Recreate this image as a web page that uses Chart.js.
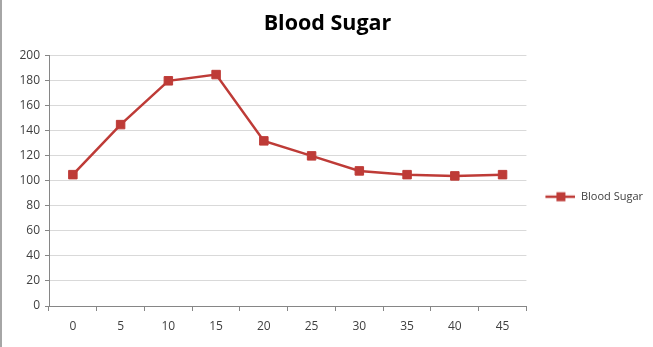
<!DOCTYPE html>
<html><head><meta charset="utf-8">
<script src="https://cdn.jsdelivr.net/npm/chart.js@4/dist/chart.umd.min.js"></script>
<style>
html,body{margin:0;padding:0;background:#fff;}
#wrap{position:absolute;left:0;top:0;width:651px;height:347px;border-left:2px solid #a6a6a6;}
</style></head>
<body>
<div id="wrap"><canvas id="c" width="651" height="347"></canvas></div>
<script>
const categories = ['0','5','10','15','20','25','30','35','40','45'];
const bloodSugar = [105,145,180,185,132,120,108,105,104,105];
const seriesName = 'Blood Sugar';
const titleText = 'Blood Sugar';

const red = '#be3b37';
// legend symbol: line with square marker (with some leading blank space)
const sym = document.createElement('canvas');
sym.width = 44; sym.height = 12;
(function(){const g=sym.getContext('2d');g.strokeStyle=red;g.lineWidth=2.5;g.beginPath();g.moveTo(14,6);g.lineTo(44,6);g.stroke();g.fillStyle=red;g.fillRect(25,1.5,9,9);})();

new Chart(document.getElementById('c'), {
  type: 'line',
  data: {
    labels: categories,
    datasets: [{
      label: seriesName,
      data: bloodSugar,
      borderColor: red,
      backgroundColor: red,
      borderWidth: 2.5,
      pointStyle: 'rect',
      pointRadius: 6,
      pointBorderWidth: 1,
      pointBackgroundColor: red,
      pointBorderColor: red,
      tension: 0,
      fill: false
    }]
  },
  options: {
    responsive: false,
    animation: false,
    layout: { padding: { left: 0, right: 0, top: 0, bottom: 0 } },
    plugins: {
      title: {
        display: true, text: titleText,
        font: { family: 'Open Sans', size: 21.5, weight: 'bold' },
        color: '#000',
        padding: { top: 11, bottom: 19 }
      },
      legend: {
        position: 'right',
        title: { display: true, text: '', font: { size: 12 }, padding: 16 },
        labels: {
          usePointStyle: true,
          pointStyle: sym,
          pointStyleWidth: 44,
          font: { family: 'Open Sans', size: 11 },
          color: '#404040',
          padding: 5
        }
      },
      tooltip: { enabled: false }
    },
    scales: {
      x: {
        offset: true,
        grid: { display: true, drawOnChartArea: false, offset: true, tickLength: 5, color: '#868686' },
        border: { color: '#868686' },
        ticks: { font: { family: 'Open Sans', size: 12 }, color: '#404040', padding: 8 },
        afterFit: (s) => { s.height = 41; }
      },
      y: {
        min: 0, max: 200,
        ticks: { stepSize: 20, font: { family: 'Open Sans', size: 12 }, color: '#404040', padding: 5 },
        grid: { color: '#d9d9d9', lineWidth: 1, tickLength: 4, tickColor: '#868686' },
        border: { color: '#868686' },
        afterFit: (s) => { s.width = 47; }
      }
    }
  }
});
</script>
</body></html>
